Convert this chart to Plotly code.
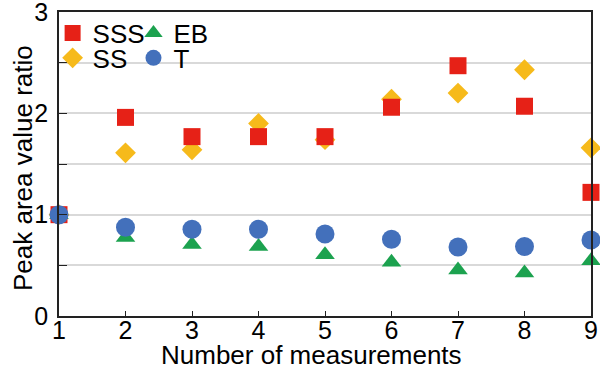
import plotly.graph_objects as go

measurements = [1, 2, 3, 4, 5, 6, 7, 8, 9]
sss = [1.00, 1.96, 1.77, 1.77, 1.77, 2.06, 2.47, 2.07, 1.22]
ss = [1.00, 1.61, 1.64, 1.90, 1.74, 2.14, 2.20, 2.43, 1.66]
eb = [1.00, 0.775, 0.705, 0.685, 0.605, 0.53, 0.455, 0.425, 0.545]
t = [1.00, 0.876, 0.856, 0.856, 0.81, 0.757, 0.68, 0.685, 0.75]

y_ticks = [0, 0.5, 1, 1.5, 2, 2.5, 3]
y_tick_text = ["0", "", "1", "", "2", "", "3"]

FONT = "Liberation Sans, Arial, sans-serif"
TXT = 26

fig = go.Figure()
# diamonds first so the squares sit on top, circles drawn last
fig.add_trace(go.Scatter(x=measurements, y=ss, mode="markers", name="SS",
                         marker=dict(symbol="diamond", size=16, color="#F6BA1B"),
                         legend="legend3", cliponaxis=False))
fig.add_trace(go.Scatter(x=measurements, y=sss, mode="markers", name="SSS",
                         marker=dict(symbol="square", size=17, color="#E62117"),
                         legend="legend", cliponaxis=False))
fig.add_trace(go.Scatter(x=measurements, y=eb, mode="markers", name="EB",
                         marker=dict(symbol="triangle-up", size=17, color="#1CA24F"),
                         legend="legend2", cliponaxis=False))
fig.add_trace(go.Scatter(x=measurements, y=t, mode="markers", name="T",
                         marker=dict(symbol="circle", size=19, color="#4370BB"),
                         legend="legend4", cliponaxis=False))

legend_style = dict(font=dict(family=FONT, size=TXT, color="black"),
                    bgcolor="rgba(0,0,0,0)", itemwidth=30,
                    yanchor="middle", xanchor="left")
col1, col2 = -0.012, 0.140
row1, row2 = 0.931, 0.849

fig.update_layout(
    width=600, height=376,
    showlegend=True,
    margin=dict(l=59, r=9, t=12, b=60, autoexpand=False),
    paper_bgcolor="white", plot_bgcolor="white",
    font=dict(family=FONT, size=TXT, color="black"),
    legend=dict(x=col1, y=row1, **legend_style),
    legend2=dict(x=col2, y=row1, **legend_style),
    legend3=dict(x=col1, y=row2, **legend_style),
    legend4=dict(x=col2, y=row2, **legend_style),
    xaxis=dict(
        range=[1, 9], tickvals=measurements, ticks="inside", ticklen=5,
        tickcolor="#222", showline=True, linecolor="#222", linewidth=1.5,
        mirror=True, showgrid=False, zeroline=False, automargin=False,
        tickfont=dict(size=25), ticklabelstandoff=-9,
        ticklabeloverflow="allow",
    ),
    yaxis=dict(
        range=[0, 3], tickvals=y_ticks, ticktext=y_tick_text,
        ticks="inside", ticklen=8, tickcolor="#222",
        showline=True, linecolor="#222", linewidth=1.5, mirror=True,
        showgrid=True, gridcolor="#D9D9D9", gridwidth=1.5, zeroline=False,
        automargin=False, tickfont=dict(size=25), ticklabelstandoff=4,
        ticklabeloverflow="allow",
    ),
    annotations=[
        dict(text="Number of measurements", xref="paper", yref="paper",
             x=(311 - 59) / 532, y=-(355 - 316) / 304,
             xanchor="center", yanchor="middle", showarrow=False,
             font=dict(size=TXT)),
        dict(text="Peak area value ratio", xref="paper", yref="paper",
             x=-(59 - 23) / 532, y=(316 - 168) / 304, textangle=-90,
             xanchor="center", yanchor="middle", showarrow=False,
             font=dict(size=TXT)),
    ],
)

fig.write_html("out.html")
